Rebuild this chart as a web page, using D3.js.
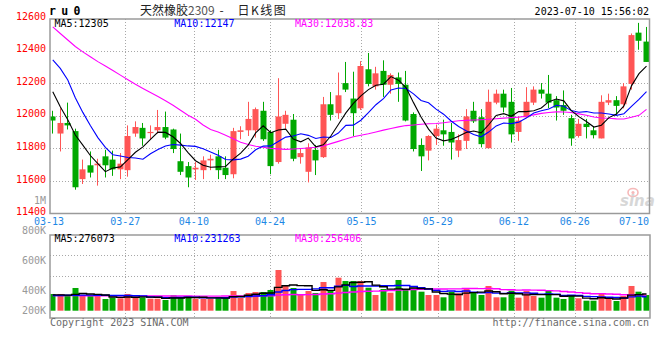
<!DOCTYPE html>
<html><head><meta charset="utf-8">
<script src="https://cdn.jsdelivr.net/npm/d3@7"></script>
<style>body{margin:0;background:#fff}svg{display:block}</style>
</head><body>
<svg id="c" width="660" height="360"></svg>
<script>
const dates = ["03-13","03-14","03-15","03-16","03-17","03-20","03-21","03-22","03-23","03-24","03-27","03-28","03-29","03-30","03-31","04-03","04-04","04-06","04-07","04-10","04-11","04-12","04-13","04-14","04-17","04-18","04-19","04-20","04-21","04-24","04-25","04-26","04-27","04-28","05-04","05-05","05-08","05-09","05-10","05-11","05-12","05-15","05-16","05-17","05-18","05-19","05-22","05-23","05-24","05-25","05-26","05-29","05-30","05-31","06-01","06-02","06-05","06-06","06-07","06-08","06-09","06-12","06-13","06-14","06-15","06-16","06-19","06-20","06-21","06-26","06-27","06-28","06-29","06-30","07-03","07-04","07-05","07-06","07-07","07-10"];
const open = [11995,11890,11955,11905,11610,11695,11695,11750,11730,11670,11665,11890,11925,11895,11910,11930,11915,11720,11690,11670,11665,11725,11750,11680,11640,11900,11910,11910,12030,11900,11715,11950,11975,11745,11655,11790,11745,12070,12015,12200,12105,12045,12285,12180,12275,12190,12235,12190,12010,11820,11785,11875,11910,11900,11785,11845,12030,11990,11800,12080,12135,12085,11900,11990,12080,12160,12135,12095,12065,11985,11875,11950,11910,11860,12080,12095,12070,12195,12510,12455];
const high = [12030,12045,12080,11920,11730,11780,11735,11790,11785,11770,11940,11965,11955,11940,12035,12025,11920,11890,11715,11715,11750,11760,11790,11750,11925,11935,12085,12050,12085,11910,12230,12030,12010,11800,11830,11820,12115,12145,12265,12330,12270,12335,12385,12300,12340,12260,12265,12275,12020,11860,11880,11945,11975,11955,11885,12040,12085,12040,12160,12160,12160,12170,11995,12175,12180,12200,12250,12120,12155,12005,11980,11980,11935,12125,12135,12120,12200,12505,12570,12545];
const low = [11890,11780,11915,11545,11580,11620,11570,11620,11630,11610,11625,11870,11815,11855,11890,11855,11770,11635,11560,11605,11610,11665,11610,11610,11615,11855,11875,11865,11845,11640,11705,11920,11720,11705,11590,11635,11740,11970,11980,12145,11875,12035,12180,12160,12115,12135,12085,11965,11780,11660,11725,11820,11815,11730,11745,11795,11955,11805,11800,12070,12020,11835,11845,11985,12065,12105,12045,11970,12005,11815,11865,11860,11860,11860,12065,12005,12045,12160,12405,12330];
const close = [11970,11955,11940,11560,11670,11650,11705,11695,11670,11705,11875,11930,11860,11900,11930,11865,11795,11655,11620,11680,11725,11735,11665,11635,11905,11910,11980,12040,11855,11690,11995,12005,11735,11770,11805,11725,12070,12005,12125,12160,12015,12305,12195,12260,12190,12250,12195,11970,11795,11750,11875,11920,11885,11835,11850,11995,11965,11825,12085,12135,12050,11885,11970,12085,12160,12135,12080,12050,12030,11860,11950,11930,11880,12085,12095,12060,12180,12495,12460,12330];
const ma5 = [12147,12054,11975,11881,11819,11755,11705,11656,11678,11685,11730,11775,11808,11854,11899,11897,11870,11829,11773,11723,11695,11683,11685,11688,11733,11770,11819,11894,11938,11895,11912,11917,11856,11839,11862,11808,11821,11875,11946,12017,12075,12122,12160,12187,12193,12240,12218,12173,12080,11992,11917,11862,11845,11853,11873,11897,11906,11894,11944,12001,12012,11996,12025,12025,12030,12047,12086,12102,12091,12031,11994,11964,11930,11941,11988,12010,12060,12183,12258,12305];
const ma10 = [12342,12290,12219,12110,12020,11940,11865,11805,11760,11752,11743,11740,11732,11766,11792,11814,11823,11819,11814,11811,11796,11777,11757,11731,11728,11733,11751,11790,11813,11814,11841,11868,11875,11889,11879,11860,11869,11866,11893,11940,11942,11972,12018,12067,12105,12158,12170,12167,12134,12093,12079,12040,12009,11967,11933,11907,11884,11870,11899,11937,11955,11951,11960,11985,12016,12030,12041,12064,12058,12031,12021,12025,12016,12016,12010,12002,12012,12057,12100,12147];
const ma30 = [12545,12505,12465,12425,12392,12362,12332,12305,12277,12249,12221,12193,12167,12142,12117,12092,12064,12033,12003,11978,11943,11915,11900,11880,11858,11837,11823,11812,11806,11799,11796,11793,11795,11798,11801,11806,11814,11828,11842,11856,11870,11880,11889,11900,11911,11921,11931,11939,11943,11947,11950,11952,11956,11963,11969,11971,11973,11975,11978,11981,11985,11988,11991,11996,12005,12014,12019,12023,12022,12019,12011,12002,11992,11986,11984,11980,11979,11990,12002,12038.83];
const volume = [276000,276000,243000,375000,243000,243000,243000,193000,215000,205000,276000,221000,221000,198000,198000,177000,254000,221000,243000,198000,198000,198000,221000,221000,325000,210000,292000,309000,309000,342000,672000,424000,375000,259000,325000,292000,474000,330000,545000,490000,490000,490000,380000,259000,358000,297000,507000,351000,368000,314000,259000,259000,221000,314000,287000,375000,297000,259000,408000,221000,221000,330000,215000,325000,243000,215000,330000,215000,193000,259000,205000,165000,165000,276000,205000,160000,243000,408000,314000,259000];
const volMa5 = [262000,262000,258000,270000,283000,276000,269000,259000,227000,220000,226000,222000,228000,224000,223000,203000,210000,210000,219000,219000,223000,212000,212000,207000,233000,235000,254000,271000,289000,292000,385000,411000,424000,414000,411000,335000,345000,336000,393000,426000,466000,469000,479000,422000,395000,357000,360000,354000,376000,367000,360000,310000,284000,273000,268000,291000,299000,306000,325000,312000,281000,288000,279000,262000,267000,266000,266000,266000,239000,242000,240000,207000,197000,214000,203000,194000,210000,258000,266000,276073];
const volMa10 = [250000,252000,254000,256000,258000,258000,256000,254000,252000,251000,251000,246000,244000,226000,221000,215000,216000,219000,221000,221000,213000,211000,211000,213000,226000,229000,233000,242000,248000,263000,310000,333000,348000,352000,352000,360000,378000,380000,404000,419000,400000,407000,408000,408000,411000,411000,415000,417000,399000,381000,358000,335000,319000,325000,318000,326000,305000,295000,299000,290000,286000,293000,293000,294000,289000,273000,277000,272000,251000,255000,253000,237000,232000,227000,223000,217000,209000,228000,240000,231263];
const volMa30 = [250000,250000,249000,249000,248000,248000,247000,247000,246000,246000,245000,245000,244000,244000,243000,243000,242000,242000,242000,241000,241000,241000,241000,242000,242000,243000,243000,244000,244000,245000,258000,263000,267000,263000,266000,268000,276000,280000,291000,301000,308000,317000,322000,324000,329000,333000,342000,346000,350000,354000,356000,358000,358000,361000,360000,366000,366000,364000,367000,363000,348000,345000,340000,342000,339000,337000,332000,328000,316000,309000,299000,288000,281000,282000,277000,272000,263000,265000,263000,256406];
const priceTicks = [11400,11600,11800,12000,12200,12400,12600];
const dateTicks = ["03-13","03-27","04-10","04-24","05-15","05-29","06-12","06-26","07-10"];
const volTickValues = [1000000,800000,600000,400000,200000];
const volTickLabels = ["1M","800K","600K","400K","200K"];

const svg = d3.select("#c");
const mono = "'DejaVu Sans Mono', monospace";
const RED = "#ff5555", GREEN = "#00a800", GRID = "#a8a8a8", BORDER = "#9a9a9a";
const P = {l:50, r:649.5, t:19, b:213.5};
const V = {l:50, r:650, t:235, b:318};

const x = d3.scalePoint().domain(dates).range([52.26, 646]);
const idx = d3.scaleOrdinal().domain(dates).range(d3.range(dates.length));
const xGrid = d3.scaleLinear().domain([0, dates.length-1]).range([49.1, 651]);
const y = d3.scaleLinear().domain([11400, 12600]).range([213.3, 18]);
const yv = d3.scaleLinear().domain([0, 1250000]).range([310.7, 235]);
const vPanel = d3.scaleLinear().domain([0, 4]).range([235, 316.4]);
const yVolLabel = d3.scaleLinear().domain([1000000, 400000]).range([204.3, 294.3]);
const cx = d => Math.round(x(d));

const defs = svg.append("defs");
defs.append("clipPath").attr("id","cm").append("rect").attr("x",P.l).attr("y",P.t).attr("width",P.r-P.l).attr("height",P.b-P.t);
defs.append("clipPath").attr("id","cv").append("rect").attr("x",V.l).attr("y",V.t).attr("width",V.r-V.l).attr("height",V.b-V.t);

// grid main
const gm = svg.append("g").attr("clip-path","url(#cm)");
gm.selectAll("line.h").data(priceTicks.slice(1,-1)).join("line")
  .attr("x1",P.l).attr("x2",P.r).attr("y1",d=>Math.round(y(d))+0.5).attr("y2",d=>Math.round(y(d))+0.5)
  .attr("stroke",GRID).attr("stroke-dasharray","1,2");
gm.selectAll("line.v").data(dateTicks).join("line")
  .attr("x1",d=>Math.round(xGrid(idx(d)))+0.5).attr("x2",d=>Math.round(xGrid(idx(d)))+0.5)
  .attr("y1",P.t).attr("y2",P.b).attr("stroke",GRID).attr("stroke-dasharray","1,2");

// grid volume
const gv = svg.append("g").attr("clip-path","url(#cv)");
gv.selectAll("line.h").data([1,2]).join("line")
  .attr("x1",V.l).attr("x2",V.r).attr("y1",d=>Math.round(vPanel(d))+0.5).attr("y2",d=>Math.round(vPanel(d))+0.5)
  .attr("stroke",GRID).attr("stroke-dasharray","1,2");
gv.selectAll("line.v").data(dateTicks).join("line")
  .attr("x1",d=>Math.round(xGrid(idx(d)))+0.5).attr("x2",d=>Math.round(xGrid(idx(d)))+0.5)
  .attr("y1",V.t).attr("y2",V.b).attr("stroke",GRID).attr("stroke-dasharray","1,2");

// watermark
const wm = svg.append("g").attr("opacity",0.55);
wm.append("ellipse").attr("cx",633).attr("cy",192.5).attr("rx",5).attr("ry",4).attr("fill","none").attr("stroke","#f08080").attr("stroke-width",1.6);
wm.append("circle").attr("cx",633).attr("cy",192.5).attr("r",1.6).attr("fill","#f08080");
wm.append("text").attr("x",620).attr("y",206).attr("font-family","'DejaVu Sans', sans-serif").attr("font-size",15).attr("font-weight","bold").attr("font-style","italic").attr("fill","#b8b8b8").text("sina");

// candles
const rows = dates.map((d,i)=>({d, o:open[i], h:high[i], l:low[i], c:close[i], v:volume[i]}));
const cg = gm.append("g");
cg.selectAll("line.w").data(rows).join("line")
  .attr("x1",r=>cx(r.d)+0.5).attr("x2",r=>cx(r.d)+0.5)
  .attr("y1",r=>y(r.h)).attr("y2",r=>y(r.l))
  .attr("stroke",r=>r.c>=r.o?RED:GREEN).attr("stroke-width",1);
cg.selectAll("rect").data(rows).join("rect")
  .attr("x",r=>cx(r.d)-2.5).attr("width",6)
  .attr("y",r=>y(Math.max(r.o,r.c)))
  .attr("height",r=>Math.max(1.2, Math.abs(y(r.o)-y(r.c))))
  .attr("fill",r=>r.c>=r.o?RED:GREEN);

// MA lines main
const lineOf = arr => d3.line().x((v,i)=>x(dates[i])+0.5).y(v=>y(v))(arr);
[[ma30,"#ff00ff"],[ma10,"#0000ff"],[ma5,"#000000"]].forEach(([a,col])=>{
  gm.append("path").attr("d",lineOf(a)).attr("fill","none").attr("stroke",col).attr("stroke-width",1.1);
});

// volume bars
const vg = gv.append("g");
vg.selectAll("rect").data(rows).join("rect")
  .attr("x",r=>cx(r.d)-2.5).attr("width",6)
  .attr("y",r=>yv(r.v)).attr("height",r=>yv(0)-yv(r.v))
  .attr("fill",r=>r.c>=r.o?RED:GREEN);
const vline = arr => d3.line().curve(d3.curveStep).x((v,i)=>x(dates[i])+0.5).y(v=>yv(v))(arr);
[[volMa30,"#ff00ff"],[volMa10,"#0000ff"],[volMa5,"#000000"]].forEach(([a,col])=>{
  gv.append("path").attr("d",vline(a)).attr("fill","none").attr("stroke",col).attr("stroke-width",1.4);
});

// borders
svg.append("rect").attr("x",P.l).attr("y",P.t).attr("width",P.r-P.l).attr("height",P.b-P.t)
  .attr("fill","none").attr("stroke",BORDER).attr("stroke-width",1.5);
svg.append("rect").attr("x",V.l).attr("y",V.t).attr("width",V.r-V.l).attr("height",V.b-V.t)
  .attr("fill","none").attr("stroke",BORDER).attr("stroke-width",1.5);

// price labels
svg.append("g").selectAll("text").data(priceTicks).join("text")
  .attr("x",46).attr("y",d=>y(d)+1.8).attr("text-anchor","end")
  .attr("font-family",mono).attr("font-size",10).attr("fill","#ff0000").text(d=>d);

// volume labels
svg.append("g").selectAll("text").data(volTickValues).join("text")
  .attr("x",46).attr("y",d=>Math.min(yVolLabel(d), 314)).attr("text-anchor","end")
  .attr("font-family",mono).attr("font-size",10).attr("fill","#999").text((d,i)=>volTickLabels[i]);

// date labels
svg.append("g").selectAll("text").data(dateTicks).join("text")
  .attr("x",d=>Math.min(xGrid(idx(d)), 649-15)).attr("y",225.3).attr("text-anchor","middle")
  .attr("font-family",mono).attr("font-size",10).attr("fill","#1e88e5").text(d=>d);

// legends
const leg = (xp, yp, txt, col) => svg.append("text").attr("x",xp).attr("y",yp)
  .attr("font-family",mono).attr("font-size",10).attr("fill",col).text(txt);
leg(54.5, 27.3, "MA5:"+ma5[ma5.length-1], "#000");
leg(174.3, 27.3, "MA10:"+ma10[ma10.length-1], "#0000ff");
leg(295, 27.3, "MA30:"+ma30[ma30.length-1], "#ff00ff");
leg(54.5, 242.3, "MA5:"+volMa5[volMa5.length-1], "#000");
leg(174.3, 242.3, "MA10:"+volMa10[volMa10.length-1], "#0000ff");
leg(295, 242.3, "MA30:"+volMa30[volMa30.length-1], "#ff00ff");

// header
svg.append("text").attr("x",49).attr("y",15).attr("font-family",mono).attr("font-size",11.5)
  .attr("font-weight","bold").attr("letter-spacing",5.3).attr("fill","#000").text("ru0");
const cjk = "'Noto Sans CJK SC', sans-serif";
const t1 = svg.append("text").attr("x",140).attr("y",14.5).attr("font-family",cjk).attr("font-size",12).attr("fill","#222");
t1.append("tspan").text("天然橡胶");
t1.append("tspan").attr("fill","#555").text("2309");
svg.append("text").attr("x",219.5).attr("y",14.5).attr("font-family",cjk).attr("font-size",12).attr("fill","#222").text("-");
svg.append("text").attr("x",237.5).attr("y",14.5).attr("font-family",cjk).attr("font-size",12).attr("letter-spacing",1.5).attr("fill","#222").text("日K线图");
svg.append("text").attr("x",649).attr("y",15).attr("text-anchor","end").attr("font-family",mono).attr("font-size",10).attr("fill","#000").text("2023-07-10 15:56:02");

// footer
svg.append("text").attr("x",50).attr("y",326).attr("font-family",mono).attr("font-size",10).attr("fill","#6b6b6b").text("Copyright 2023 SINA.COM");
svg.append("text").attr("x",649).attr("y",326).attr("text-anchor","end").attr("font-family",mono).attr("font-size",10).attr("fill","#6b6b6b").text("http://finance.sina.com.cn");
</script>
</body></html>
